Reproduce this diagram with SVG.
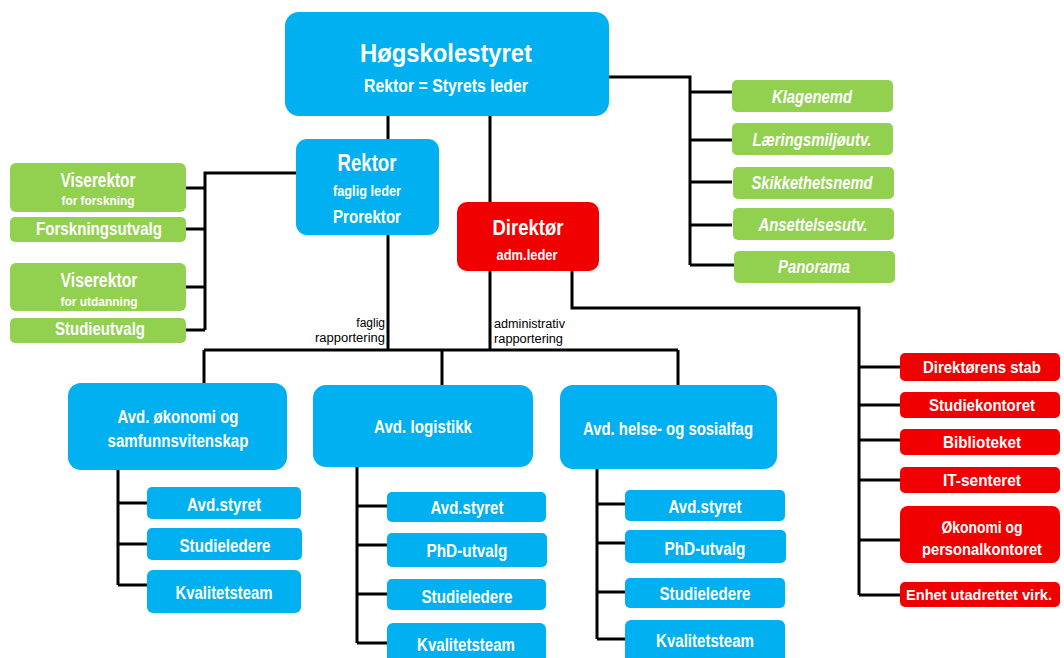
<svg xmlns="http://www.w3.org/2000/svg" width="1064" height="658" viewBox="0 0 1064 658">
<style>
text{font-family:"Liberation Sans Narrow","Arial Narrow","Liberation Sans",Arial,sans-serif;font-weight:bold;fill:#fff;text-anchor:middle}
.b{fill:#00B0F0}
.g{fill:#92D050}
.r{fill:#F00000}
.it{font-style:italic}
.lbl{fill:#000;font-weight:normal;font-size:12px}
#connectors path{fill:none;stroke:#000;stroke-width:3}
</style>
<rect width="1064" height="658" fill="#fff"/>
<g id="connectors">
<path d="M388 116V350M490 116V350M204 350H678M204 350V384M442 350V385M678 350V385"/>
<path d="M296 173H205V330M185 188H205M185 229H205M185 287H205M185 330H205"/>
<path d="M609 77H690V265M690 92H732M690 140H732M690 182H732M690 225H732M690 265H734"/>
<path d="M572 270V308H859V595M859 367H900M859 405H900M859 440H900M859 480H900M859 540H900M859 595H900"/>
<path d="M118 470V585M118 503H147M118 544H147M118 585H147"/>
<path d="M357 467V643M357 506H387M357 545H387M357 594H387M357 643H387"/>
<path d="M597 469V639M597 504H625M597 543H625M597 592H625M597 639H625"/>
</g>
<g id="labels">
<text class="lbl" x="385" y="327" style="text-anchor:end">faglig</text>
<text class="lbl" x="385" y="342" style="text-anchor:end" textLength="70" lengthAdjust="spacingAndGlyphs">rapportering</text>
<text class="lbl" x="494" y="328" style="text-anchor:start" textLength="71" lengthAdjust="spacingAndGlyphs">administrativ</text>
<text class="lbl" x="494" y="343" style="text-anchor:start" textLength="69" lengthAdjust="spacingAndGlyphs">rapportering</text>
</g>
<g id="hogskolestyret">
<rect class="b" x="285" y="12" width="324" height="104" rx="14"/>
<text x="446" y="62" font-size="26" textLength="172" lengthAdjust="spacingAndGlyphs">Høgskolestyret</text>
<text x="446" y="92" font-size="18" textLength="164" lengthAdjust="spacingAndGlyphs">Rektor = Styrets leder</text>
</g>
<g id="rektor">
<rect class="b" x="296" y="139" width="143" height="96" rx="11"/>
<text x="367" y="171" font-size="23" textLength="59" lengthAdjust="spacingAndGlyphs">Rektor</text>
<text x="367" y="196" font-size="14" textLength="68" lengthAdjust="spacingAndGlyphs">faglig leder</text>
<text x="367" y="223" font-size="19" textLength="68" lengthAdjust="spacingAndGlyphs">Prorektor</text>
</g>
<g id="direktor">
<rect class="r" x="457" y="202" width="142" height="69" rx="10"/>
<text x="528" y="235" font-size="22" textLength="71" lengthAdjust="spacingAndGlyphs">Direktør</text>
<text x="527" y="260" font-size="15" textLength="61" lengthAdjust="spacingAndGlyphs">adm.leder</text>
</g>
<g id="viserektor-forskning">
<rect class="g" x="10" y="163" width="176" height="49" rx="6"/>
<text x="98" y="187" font-size="20" textLength="75" lengthAdjust="spacingAndGlyphs">Viserektor</text>
<text x="98" y="205" font-size="13" textLength="73" lengthAdjust="spacingAndGlyphs">for forskning</text>
</g>
<g id="forskningsutvalg">
<rect class="g" x="10" y="217" width="176" height="25" rx="5"/>
<text x="99" y="235" font-size="19" textLength="126" lengthAdjust="spacingAndGlyphs">Forskningsutvalg</text>
</g>
<g id="viserektor-utdanning">
<rect class="g" x="10" y="263" width="176" height="48" rx="6"/>
<text x="99" y="287" font-size="20" textLength="77" lengthAdjust="spacingAndGlyphs">Viserektor</text>
<text x="99" y="306" font-size="13" textLength="77" lengthAdjust="spacingAndGlyphs">for utdanning</text>
</g>
<g id="studieutvalg">
<rect class="g" x="10" y="318" width="176" height="25" rx="5"/>
<text x="100" y="335" font-size="19" textLength="90" lengthAdjust="spacingAndGlyphs">Studieutvalg</text>
</g>
<g id="klagenemd">
<rect class="g" x="732" y="80" width="161" height="32" rx="5"/>
<text class="it" x="812" y="103" font-size="18" textLength="80" lengthAdjust="spacingAndGlyphs">Klagenemd</text>
</g>
<g id="laeringsmiljoutv">
<rect class="g" x="732" y="123" width="161" height="32" rx="5"/>
<text class="it" x="812" y="146" font-size="18" textLength="119" lengthAdjust="spacingAndGlyphs">Læringsmiljøutv.</text>
</g>
<g id="skikkethetsnemd">
<rect class="g" x="733" y="167" width="161" height="32" rx="5"/>
<text class="it" x="812" y="189" font-size="18" textLength="121" lengthAdjust="spacingAndGlyphs">Skikkethetsnemd</text>
</g>
<g id="ansettelsesutv">
<rect class="g" x="733" y="208" width="161" height="32" rx="5"/>
<text class="it" x="813" y="231" font-size="18" textLength="109" lengthAdjust="spacingAndGlyphs">Ansettelsesutv.</text>
</g>
<g id="panorama">
<rect class="g" x="734" y="251" width="161" height="32" rx="5"/>
<text class="it" x="814" y="273" font-size="18" textLength="72" lengthAdjust="spacingAndGlyphs">Panorama</text>
</g>
<g id="direktorens-stab">
<rect class="r" x="900" y="353" width="160" height="28" rx="5"/>
<text x="982" y="373" font-size="17" textLength="118" lengthAdjust="spacingAndGlyphs">Direktørens stab</text>
</g>
<g id="studiekontoret">
<rect class="r" x="900" y="392" width="160" height="26" rx="5"/>
<text x="982" y="411" font-size="17" textLength="106" lengthAdjust="spacingAndGlyphs">Studiekontoret</text>
</g>
<g id="biblioteket">
<rect class="r" x="900" y="429" width="160" height="26" rx="5"/>
<text x="982" y="448" font-size="17" textLength="78" lengthAdjust="spacingAndGlyphs">Biblioteket</text>
</g>
<g id="it-senteret">
<rect class="r" x="900" y="467" width="160" height="26" rx="5"/>
<text x="982" y="486" font-size="17" textLength="78" lengthAdjust="spacingAndGlyphs">IT-senteret</text>
</g>
<g id="okonomi-personal">
<rect class="r" x="900" y="506" width="160" height="57" rx="8"/>
<text x="982" y="533" font-size="17" textLength="81" lengthAdjust="spacingAndGlyphs">Økonomi og</text>
<text x="982" y="555" font-size="17" textLength="120" lengthAdjust="spacingAndGlyphs">personalkontoret</text>
</g>
<g id="enhet-utadrettet">
<rect class="r" x="900" y="582" width="160" height="25" rx="5"/>
<text x="979" y="600" font-size="15" textLength="146" lengthAdjust="spacingAndGlyphs">Enhet utadrettet virk.</text>
</g>
<g id="avd-okonomi">
<rect class="b" x="68" y="383" width="219" height="87" rx="13"/>
<text x="178" y="423" font-size="18" textLength="121" lengthAdjust="spacingAndGlyphs">Avd. økonomi og</text>
<text x="178" y="447" font-size="18" textLength="141" lengthAdjust="spacingAndGlyphs">samfunnsvitenskap</text>
</g>
<g id="okonomi-avdstyret">
<rect class="b" x="147" y="487" width="154" height="32" rx="5"/>
<text x="224" y="511" font-size="18" textLength="74" lengthAdjust="spacingAndGlyphs">Avd.styret</text>
</g>
<g id="okonomi-studieledere">
<rect class="b" x="147" y="528" width="155" height="32" rx="5"/>
<text x="225" y="552" font-size="18" textLength="91" lengthAdjust="spacingAndGlyphs">Studieledere</text>
</g>
<g id="okonomi-kvalitetsteam">
<rect class="b" x="147" y="570" width="154" height="43" rx="6"/>
<text x="224" y="599" font-size="18" textLength="97" lengthAdjust="spacingAndGlyphs">Kvalitetsteam</text>
</g>
<g id="avd-logistikk">
<rect class="b" x="313" y="385" width="220" height="82" rx="13"/>
<text x="423" y="433" font-size="18" textLength="98" lengthAdjust="spacingAndGlyphs">Avd. logistikk</text>
</g>
<g id="logistikk-avdstyret">
<rect class="b" x="387" y="492" width="159" height="30" rx="5"/>
<text x="467" y="514" font-size="18" textLength="73" lengthAdjust="spacingAndGlyphs">Avd.styret</text>
</g>
<g id="logistikk-phd">
<rect class="b" x="387" y="533" width="160" height="34" rx="5"/>
<text x="467" y="557" font-size="18" textLength="81" lengthAdjust="spacingAndGlyphs">PhD-utvalg</text>
</g>
<g id="logistikk-studieledere">
<rect class="b" x="387" y="579" width="159" height="31" rx="5"/>
<text x="467" y="603" font-size="18" textLength="91" lengthAdjust="spacingAndGlyphs">Studieledere</text>
</g>
<g id="logistikk-kvalitetsteam">
<rect class="b" x="387" y="623" width="159" height="45" rx="6"/>
<text x="466" y="651" font-size="18" textLength="98" lengthAdjust="spacingAndGlyphs">Kvalitetsteam</text>
</g>
<g id="avd-helse">
<rect class="b" x="560" y="385" width="217" height="84" rx="13"/>
<text x="668" y="435" font-size="18" textLength="170" lengthAdjust="spacingAndGlyphs">Avd. helse- og sosialfag</text>
</g>
<g id="helse-avdstyret">
<rect class="b" x="625" y="490" width="160" height="31" rx="5"/>
<text x="705" y="513" font-size="18" textLength="73" lengthAdjust="spacingAndGlyphs">Avd.styret</text>
</g>
<g id="helse-phd">
<rect class="b" x="625" y="530" width="161" height="33" rx="5"/>
<text x="705" y="555" font-size="18" textLength="81" lengthAdjust="spacingAndGlyphs">PhD-utvalg</text>
</g>
<g id="helse-studieledere">
<rect class="b" x="625" y="578" width="160" height="30" rx="5"/>
<text x="705" y="600" font-size="18" textLength="91" lengthAdjust="spacingAndGlyphs">Studieledere</text>
</g>
<g id="helse-kvalitetsteam">
<rect class="b" x="625" y="620" width="160" height="48" rx="6"/>
<text x="705" y="647" font-size="18" textLength="98" lengthAdjust="spacingAndGlyphs">Kvalitetsteam</text>
</g>
</svg>
